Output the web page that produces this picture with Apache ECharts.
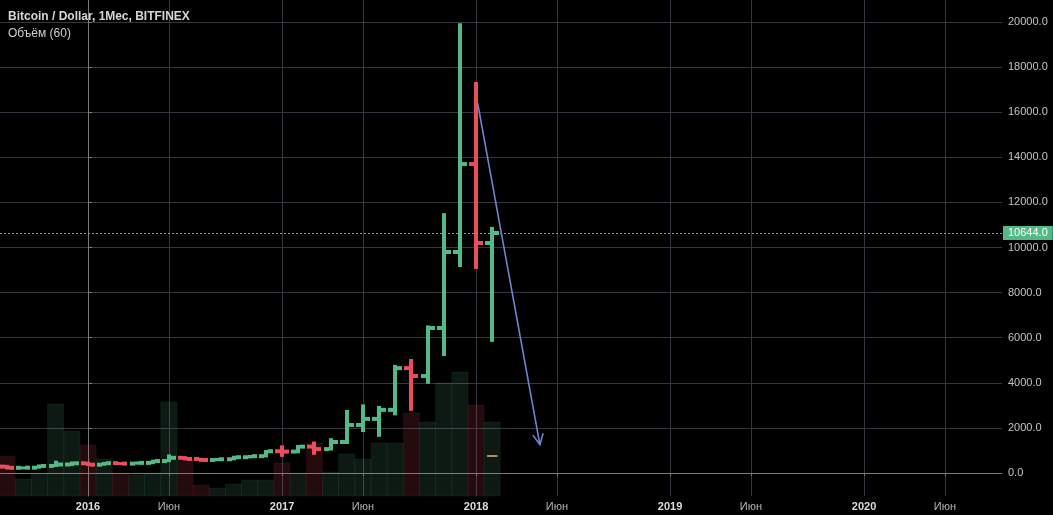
<!DOCTYPE html>
<html>
<head>
<meta charset="utf-8">
<script src="https://cdn.jsdelivr.net/npm/echarts@6/dist/echarts.min.js"></script>
<style>
html,body{margin:0;padding:0;background:#000;}
#chart{width:1053px;height:515px;}
</style>
</head>
<body>
<div id="chart"></div>
<script>
// ---- data ----
const months = ['2015-08','2015-09','2015-10','2015-11','2015-12',
  '2016-01','2016-02','2016-03','2016-04','2016-05','2016-06','2016-07','2016-08','2016-09','2016-10','2016-11','2016-12',
  '2017-01','2017-02','2017-03','2017-04','2017-05','2017-06','2017-07','2017-08','2017-09','2017-10','2017-11','2017-12',
  '2018-01','2018-02'];
const openP  = [284,230,236,313,377, 430,368,436,416,448,530,673,624,575,609,700,745, 965,950,1170,1060,1375,2130,2400,2800,4650,4300,6430,9800, 13700,10200];
const highP  = [318,245,333,502,467, 462,448,439,467,548,780,704,630,626,720,755,980, 1180,1200,1350,1500,2750,3000,2930,4750,5010,6500,11480,19900, 17300,10870];
const lowP   = [198,225,236,310,350, 352,365,394,414,436,525,604,540,570,606,690,735, 760,915,850,1040,1330,1860,1650,2600,2800,4000,5230,9180, 9090,5860];
const closeP = [230,236,313,377,430, 368,436,416,448,530,673,624,575,609,700,745,965, 950,1170,1060,1375,2130,2400,2800,4650,4300,6430,9800,13700, 10200,10644];
const volume = [400,170,230,920,650, 510,370,230,210,230,940,360,110,80,120,160,160, 330,230,530,240,420,370,530,530,830,740,1130,1240, 910,740];
const volumeMA = [null,null,null,null,null, null,null,null,null,null,null,null,null,null,null,null,null, null,null,null,null,null,null,null,null,null,null,null,null, null,400];
const lastPrice = 10644;
const yTicks = [0,2000,4000,6000,8000,10000,12000,14000,16000,18000,20000];
const xTickMonths = ['2016-01','2016-06','2017-01','2017-06','2018-01','2018-06','2019-01','2019-06','2020-01','2020-06'];
const xTickLabels = ['2016','Июн','2017','Июн','2018','Июн','2019','Июн','2020','Июн'];
const arrowFrom = ['2018-01', 0.1, 16400];
const arrowTo   = ['2018-05', -0.05, 1250];
const titleText = 'Bitcoin / Dollar, 1Мес, BITFINEX';
const subText = 'Объём (60)';

// ---- helpers ----
const UP = '#53b987', DOWN = '#eb4d5c';
function mIdx(s){ const [y,m] = s.split('-').map(Number); return (y-2016)*12 + (m-1); }
const xTickVals = xTickMonths.map(mIdx);

const ohlcData = months.map((s,i)=>[mIdx(s), openP[i], highP[i], lowP[i], closeP[i]]);
const volData = months.map((s,i)=>[mIdx(s), volume[i], closeP[i] >= openP[i] ? 1 : 0]);
const maData = months.map((s,i)=>[mIdx(s), volumeMA[i]]).filter(d=>d[1]!=null);
const arrowData = [[mIdx(arrowFrom[0])+arrowFrom[1], arrowFrom[2], mIdx(arrowTo[0])+arrowTo[1], arrowTo[2]]];

function renderOHLC(params, api){
  const m = api.value(0), o = api.value(1), h = api.value(2), l = api.value(3), c = api.value(4);
  const pH = api.coord([m,h]), pL = api.coord([m,l]), pO = api.coord([m,o]), pC = api.coord([m,c]);
  const col = c >= o ? UP : DOWN;
  const x = Math.round(pH[0]);
  return {type:'group', children:[
    {type:'rect', shape:{x:x-2, y:pH[1]-1, width:4, height:Math.max(3,pL[1]-pH[1]+2)}, style:{fill:col}},
    {type:'rect', shape:{x:x-7, y:pO[1]-2, width:5, height:4}, style:{fill:col}},
    {type:'rect', shape:{x:x+2, y:pC[1]-2, width:5, height:4}, style:{fill:col}}
  ]};
}
function renderVol(params, api){
  const m = api.value(0), v = api.value(1), up = api.value(2);
  const a = api.coord([m-0.5, v]), b = api.coord([m+0.5, 0]);
  const fill = up ? 'rgba(83,185,135,0.14)' : 'rgba(235,77,92,0.15)';
  const stroke = up ? 'rgba(83,185,135,0.08)' : 'rgba(235,77,92,0.08)';
  return {type:'rect', shape:{x:a[0], y:a[1], width:b[0]-a[0], height:b[1]-a[1]}, style:{fill:fill, stroke:stroke, lineWidth:1}};
}
function renderMA(params, api){
  const m = api.value(0), v = api.value(1);
  const a = api.coord([m-0.32, v]), b = api.coord([m+0.32, v]);
  return {type:'line', shape:{x1:a[0], y1:a[1], x2:b[0], y2:b[1]}, style:{stroke:'#f5ae72', lineWidth:1.5}};
}
function renderArrow(params, api){
  const p0 = api.coord([api.value(0), api.value(1)]);
  const p1 = api.coord([api.value(2), api.value(3)]);
  const ang = Math.atan2(p1[1]-p0[1], p1[0]-p0[0]);
  const L = 12, spread = 0.45;
  const w1 = [p1[0]-L*Math.cos(ang-spread), p1[1]-L*Math.sin(ang-spread)];
  const w2 = [p1[0]-L*Math.cos(ang+spread), p1[1]-L*Math.sin(ang+spread)];
  const st = {stroke:'#7083cf', lineWidth:1.6, fill:null};
  return {type:'group', children:[
    {type:'line', shape:{x1:p0[0],y1:p0[1],x2:p1[0],y2:p1[1]}, style:st},
    {type:'polyline', shape:{points:[w1,p1,w2]}, style:st}
  ]};
}

const chart = echarts.init(document.getElementById('chart'), null, {renderer:'canvas'});
const gridColor = '#363641';
chart.setOption({
  backgroundColor:'#000000',
  animation:false,
  title:[
    {text:titleText, left:8, top:11, padding:0, textStyle:{color:'#d6d6d6', fontSize:12, fontWeight:'bold', fontFamily:'Liberation Sans, Arial, sans-serif'}},
    {text:subText, left:8, top:28, padding:0, textStyle:{color:'#cfcfcf', fontSize:12, fontWeight:'normal', fontFamily:'Liberation Sans, Arial, sans-serif'}}
  ],
  grid:{left:0, right:51, top:0, bottom:19, containLabel:false},
  xAxis:{
    type:'value', min:-5.443, max:56.53,
    axisLine:{show:true, lineStyle:{color:'#7a7a7a'}},
    axisTick:{show:true, length:3, customValues:xTickVals, lineStyle:{color:'#7a7a7a'}},
    axisLabel:{show:true, margin:5, customValues:xTickVals, fontFamily:'Liberation Sans, Arial, sans-serif',
      formatter:(v)=>{ const i = xTickVals.indexOf(Math.round(v)); const t = xTickLabels[i]; return (Math.round(v)%12===0) ? '{y|'+t+'}' : '{m|'+t+'}'; },
      rich:{y:{color:'#dcdcdc', fontSize:11, fontWeight:'bold', fontFamily:'Liberation Sans, Arial, sans-serif'},
            m:{color:'#b4b4b4', fontSize:11, fontFamily:'Liberation Sans, Arial, sans-serif'}}},
    splitLine:{show:true, lineStyle:{color:gridColor, width:1}}
  },
  yAxis:[
    {type:'value', position:'right', min:-1020, max:20975.6,
      axisLine:{show:true, lineStyle:{color:'#7a7a7a'}},
      axisTick:{show:true, length:4, customValues:yTicks, lineStyle:{color:'#7a7a7a'}},
      axisLabel:{show:true, margin:6, customValues:yTicks, color:'#c4c4c4', fontSize:11, fontFamily:'Liberation Sans, Arial, sans-serif',
        formatter:(v)=>Number(v).toFixed(1)},
      splitLine:{show:true, lineStyle:{color:gridColor, width:1}}
    },
    {type:'value', min:0, max:4960, show:false, splitLine:{show:false}}
  ],
  series:[
    {type:'custom', name:'vol', xAxisIndex:0, yAxisIndex:1, renderItem:renderVol, data:volData, encode:{x:0,y:1}, z:1, silent:true},
    {type:'custom', name:'volMA', xAxisIndex:0, yAxisIndex:1, renderItem:renderMA, data:maData, encode:{x:0,y:1}, z:2, silent:true},
    {type:'line', name:'last', xAxisIndex:0, yAxisIndex:0, data:[], z:3, silent:true,
      markLine:{silent:true, symbol:['none','none'], animation:false,
        lineStyle:{color:UP, type:[2,2], width:1},
        label:{show:true, position:'end', distance:1, formatter:lastPrice.toFixed(1), color:'#ffffff', backgroundColor:UP,
          padding:[2,5,1,5], fontSize:11, fontFamily:'Liberation Sans, Arial, sans-serif'},
        data:[{yAxis:lastPrice}]}},
    {type:'custom', name:'ohlc', xAxisIndex:0, yAxisIndex:0, renderItem:renderOHLC, data:ohlcData, encode:{x:0,y:[1,2,3,4]}, z:4, silent:true},
    {type:'custom', name:'arrow', xAxisIndex:0, yAxisIndex:0, renderItem:renderArrow, data:arrowData, encode:{x:[0,2],y:[1,3]}, z:5, silent:true}
  ]
});
</script>
</body>
</html>
